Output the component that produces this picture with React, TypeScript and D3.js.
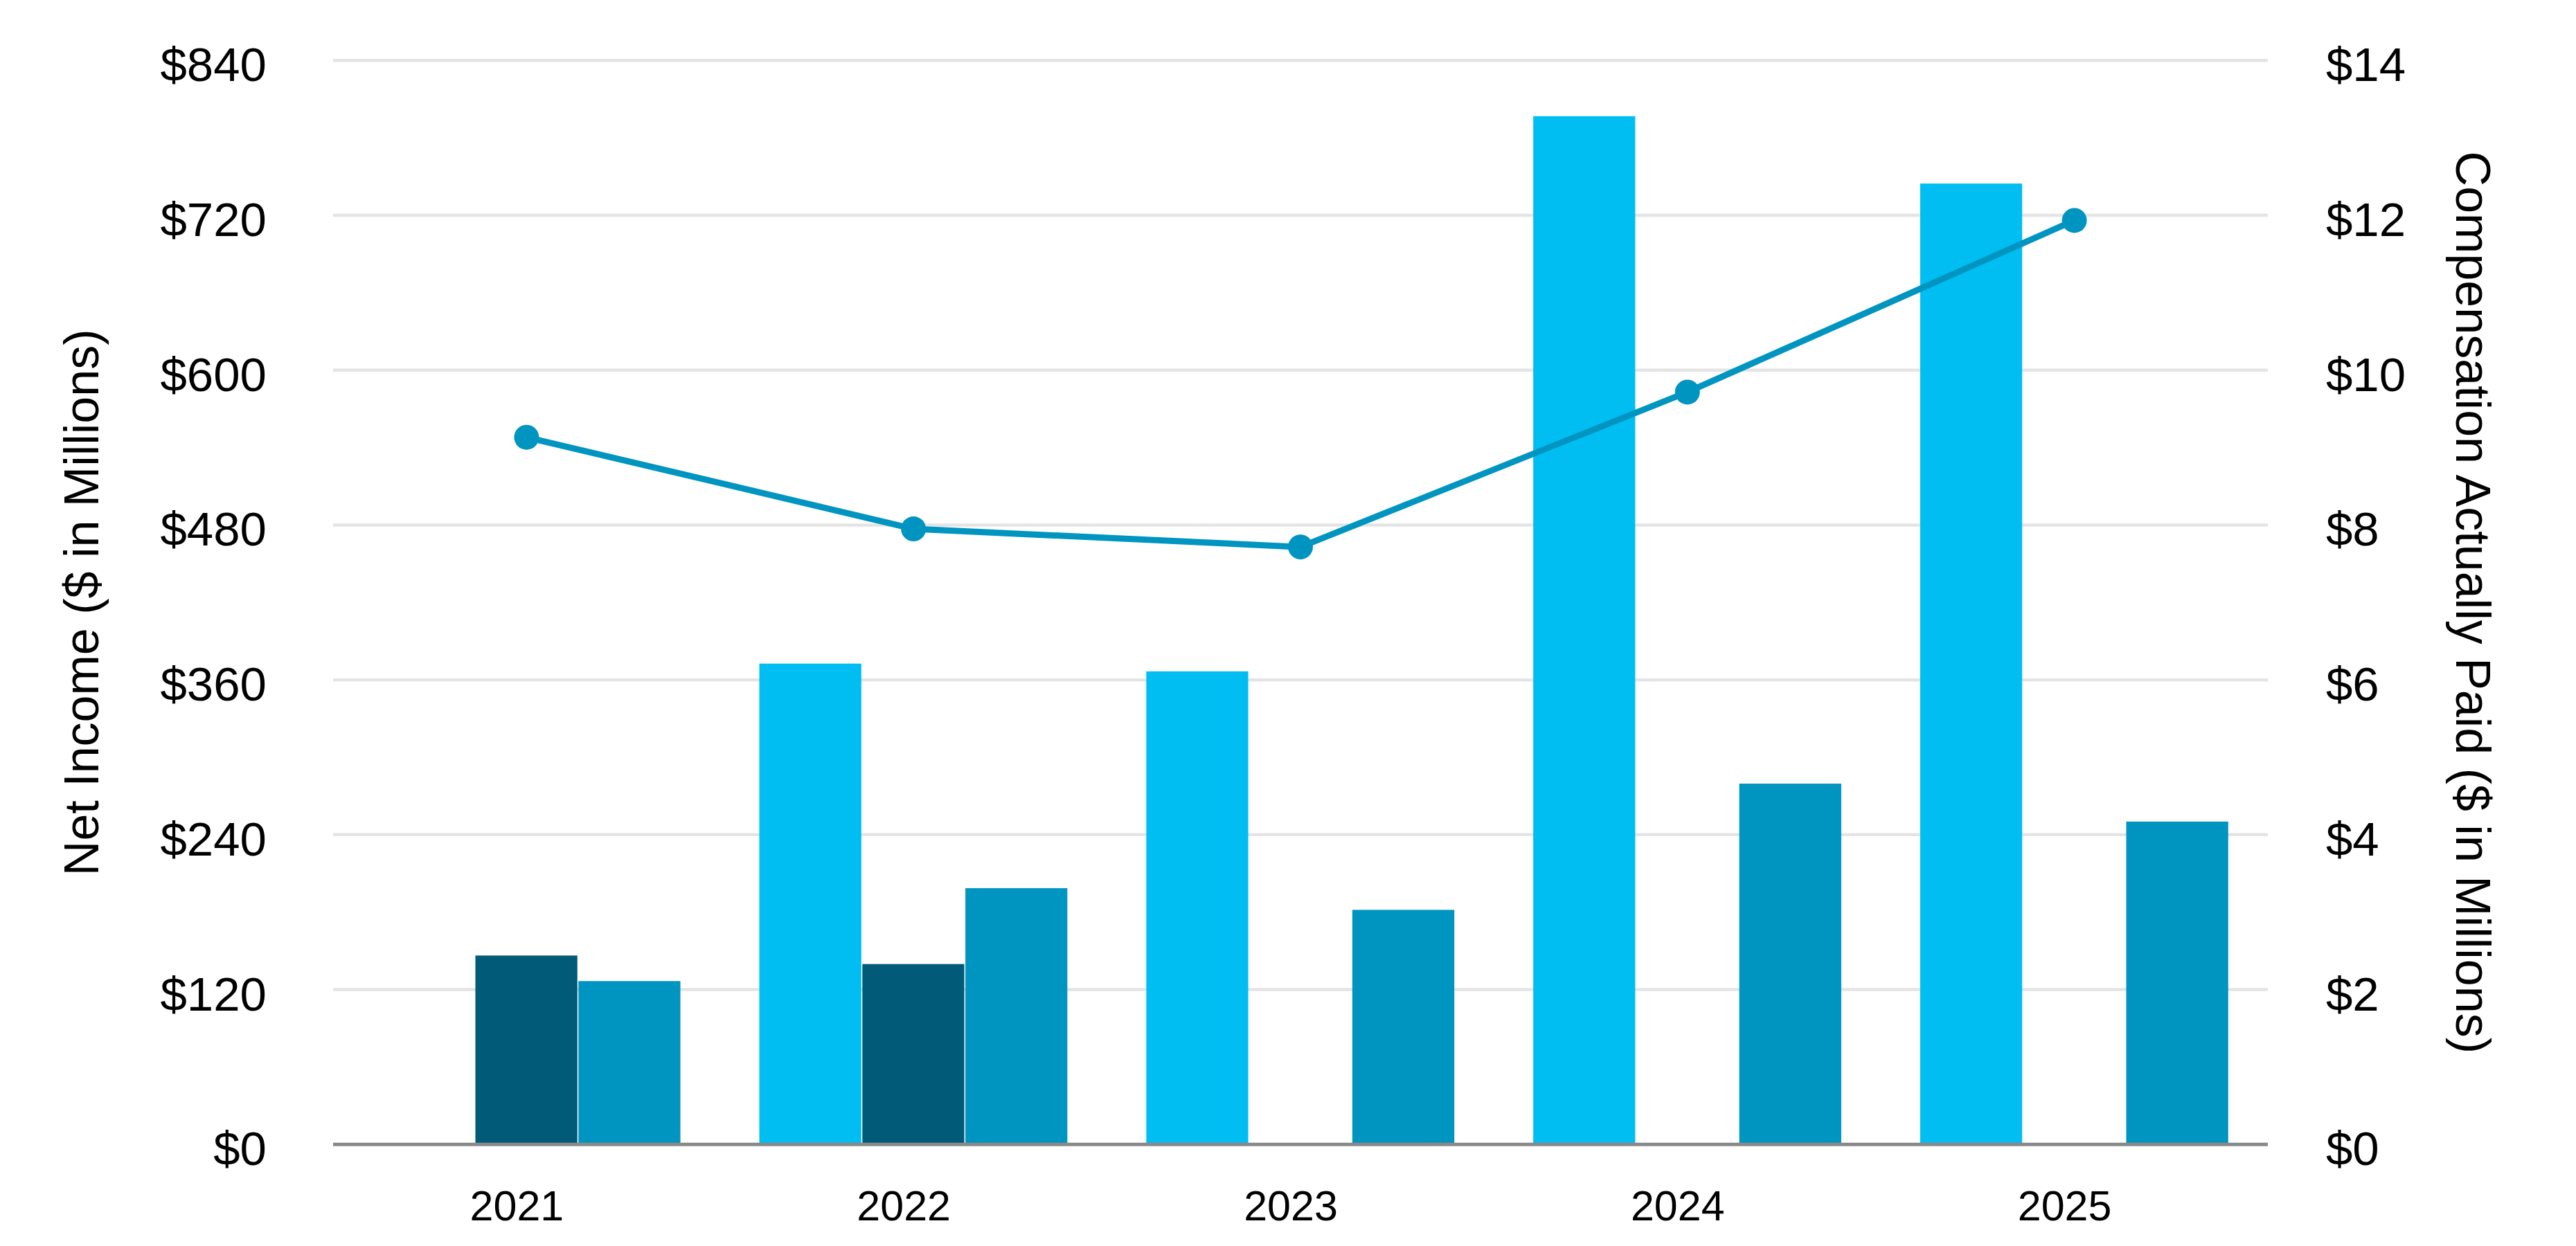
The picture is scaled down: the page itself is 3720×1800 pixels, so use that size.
import React from "react";
import * as d3 from "d3";

// ---- data ----
const years = ["2021", "2022", "2023", "2024", "2025"];
// Compensation Actually Paid ($M) — right axis
const capPeoCurrent: (number | null)[] = [null, 6.21, 6.11, 13.28, 12.41];
const capPeoFormer: (number | null)[] = [2.44, 2.33, null, null, null];
const capNonPeoAvg: (number | null)[] = [2.11, 3.31, 3.03, 4.66, 4.17];
// Net Income ($M) — left axis
const netIncome = [548, 477, 463, 583, 716];

const leftTicks = [0, 120, 240, 360, 480, 600, 720, 840];
const rightTicks = [0, 2, 4, 6, 8, 10, 12, 14];

const seriesKeys = ["current", "former", "nonPeo"];
const seriesValues: Record<string, (number | null)[]> = {
  current: capPeoCurrent,
  former: capPeoFormer,
  nonPeo: capNonPeoAvg,
};
const seriesColors: Record<string, string> = {
  current: "#00BEF2",
  former: "#005A78",
  nonPeo: "#0095C1",
};
const lineColor = "#0095C1";

const W = 3720;
const H = 1800;
const plotLeft = 481;
const plotRight = 3275;
const plotTop = 87.3;
const plotBottom = 1653.3;
const FONT = "'Liberation Sans', Arial, sans-serif";

export default function App() {
  const x0 = d3.scaleBand<string>().domain(years).range([plotLeft, plotRight]).padding(0);
  const x1 = d3
    .scaleBand<string>()
    .domain(seriesKeys)
    .range([0, x0.bandwidth()])
    .paddingInner(0)
    .paddingOuter(0.378);
  const yLeft = d3.scaleLinear().domain([0, 840]).range([plotBottom, plotTop]);
  const yRight = d3.scaleLinear().domain([0, 14]).range([plotBottom, plotTop]);

  const line = d3
    .line<number>()
    .x((_, i) => (x0(years[i]) as number) + x0.bandwidth() / 2)
    .y((d) => yLeft(d));

  const midY = (plotTop + plotBottom) / 2;

  return (
    <svg
      width={W}
      height={H}
      style={{ position: "absolute", left: 0, top: 0, background: "#fff" }}
      fontFamily={FONT}
    >
      <rect x={0} y={0} width={W} height={H} fill="#fff" />
      {/* gridlines */}
      {leftTicks.slice(1).map((t) => (
        <line
          key={"g" + t}
          x1={plotLeft}
          x2={plotRight}
          y1={yLeft(t)}
          y2={yLeft(t)}
          stroke="#E4E4E4"
          strokeWidth={4.5}
        />
      ))}
      {/* bars */}
      {years.map((yr, i) => (
        <g key={yr} transform={`translate(${x0(yr)},0)`}>
          {seriesKeys.map((k) => {
            const v = seriesValues[k][i];
            if (v == null) return null;
            return (
              <rect
                key={k}
                x={(x1(k) as number) + 0.5}
                width={x1.bandwidth() - 1.5}
                y={yRight(v)}
                height={yRight(0) - yRight(v)}
                fill={seriesColors[k]}
              />
            );
          })}
        </g>
      ))}
      {/* x axis line */}
      <line x1={plotLeft} x2={plotRight} y1={plotBottom} y2={plotBottom} stroke="#898989" strokeWidth={5} />
      {/* net income line */}
      <path d={line(netIncome) || ""} fill="none" stroke={lineColor} strokeWidth={9} strokeLinejoin="round" />
      {netIncome.map((v, i) => (
        <circle
          key={"m" + i}
          cx={(x0(years[i]) as number) + x0.bandwidth() / 2}
          cy={yLeft(v)}
          r={18}
          fill={lineColor}
        />
      ))}
      {/* left ticks */}
      {leftTicks.map((t) => (
        <text key={"l" + t} x={385} y={yLeft(t) + 30} textAnchor="end" fontSize={69} fill="#000">
          {"$" + t}
        </text>
      ))}
      {/* right ticks */}
      {rightTicks.map((t) => (
        <text key={"r" + t} x={3359} y={yRight(t) + 30} textAnchor="start" fontSize={69} fill="#000">
          {"$" + t}
        </text>
      ))}
      {/* x labels */}
      {years.map((yr) => (
        <text
          key={"x" + yr}
          x={(x0(yr) as number) + x0.bandwidth() / 2 - 14}
          y={1763}
          textAnchor="middle"
          fontSize={61}
          fill="#000"
        >
          {yr}
        </text>
      ))}
      {/* axis titles */}
      <text
        transform={`translate(142,${midY}) rotate(-90)`}
        textAnchor="middle"
        fontSize={70}
        fill="#000"
      >
        Net Income ($ in Millions)
      </text>
      <text
        transform={`translate(3547,${midY}) rotate(90)`}
        textAnchor="middle"
        fontSize={70}
        fill="#000"
      >
        Compensation Actually Paid ($ in Millions)
      </text>
    </svg>
  );
}
